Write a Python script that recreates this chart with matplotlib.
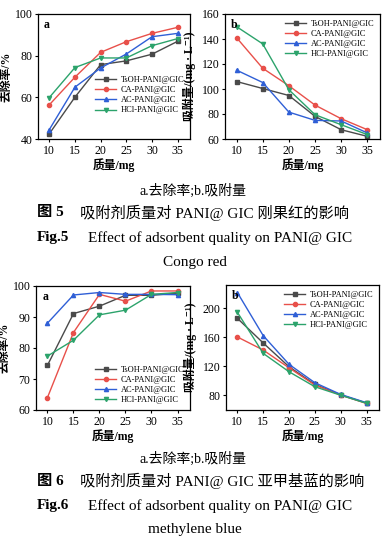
import matplotlib
matplotlib.use("Agg")
import matplotlib.pyplot as plt

plt.rcParams['font.family'] = ['Liberation Serif', 'Noto Sans CJK SC', 'DejaVu Sans']

mass = [10, 15, 20, 25, 30, 35]
series = ["TsOH-PANI@GIC", "CA-PANI@GIC", "AC-PANI@GIC", "HCl-PANI@GIC"]
colors = ["#4a4a4a", "#e8504a", "#2f5fd6", "#2ca36b"]
markers = ["s", "o", "^", "v"]

# Fig.5 Congo red
cr_removal = {
    "TsOH-PANI@GIC": [42.5, 60.1, 75.7, 77.5, 80.7, 86.9],
    "CA-PANI@GIC": [56.4, 69.7, 81.6, 86.7, 90.7, 93.6],
    "AC-PANI@GIC": [44.5, 64.9, 74.1, 80.8, 89.1, 90.7],
    "HCl-PANI@GIC": [59.9, 74.3, 78.9, 78.9, 84.8, 88.2],
}
cr_adsorb = {
    "TsOH-PANI@GIC": [106.0, 100.4, 94.8, 78.1, 67.4, 62.1],
    "CA-PANI@GIC": [141.1, 116.6, 102.6, 87.1, 76.2, 67.4],
    "AC-PANI@GIC": [115.1, 105.2, 81.5, 74.9, 74.4, 64.8],
    "HCl-PANI@GIC": [149.9, 136.1, 99.4, 79.4, 71.4, 63.5],
}
# Fig.6 methylene blue
mb_removal = {
    "TsOH-PANI@GIC": [74.4, 91.1, 93.5, 97.0, 97.0, 97.7],
    "CA-PANI@GIC": [64.0, 85.0, 97.3, 95.1, 98.4, 98.4],
    "AC-PANI@GIC": [88.0, 97.1, 97.9, 97.3, 97.3, 97.2],
    "HCl-PANI@GIC": [77.4, 82.5, 90.7, 92.2, 97.3, 97.9],
}
mb_adsorb = {
    "TsOH-PANI@GIC": [186.2, 152.2, 119.5, 95.2, 80.8, 69.5],
    "CA-PANI@GIC": [160.5, 142.5, 118.0, 94.3, 80.5, 69.0],
    "AC-PANI@GIC": [221.6, 162.3, 122.8, 97.5, 81.4, 70.0],
    "HCl-PANI@GIC": [194.5, 137.9, 112.6, 92.0, 80.3, 69.2],
}

W, H = 391, 546
fig = plt.figure(figsize=(W / 100, H / 100), dpi=100)

def box(l, t, r, b):
    return [l / W, 1 - b / H, (r - l) / W, (b - t) / H]

ylab_removal = "去除率/%"
ylab_ads = "吸附量/(mg · L⁻¹)"

def draw(rect, data, ylim, yticks, ylabel, panel, legloc, anchor, ylx):
    ax = fig.add_axes(box(*rect))
    for s, c, m in zip(series, colors, markers):
        ax.plot(mass, data[s], color=c, marker=m, markersize=3, linewidth=1, label=s)
    ax.set_xlim(7.8, 37.4)
    ax.set_ylim(*ylim)
    ax.set_xticks(mass)
    ax.set_yticks(yticks)
    ax.tick_params(direction='out', length=2.5, width=0.8, labelsize=8.5, pad=1.5)
    for sp in ax.spines.values():
        sp.set_linewidth(0.9)
    ax.set_xlabel("质量/mg", fontsize=8.5, labelpad=1, fontweight='bold')
    ax.set_ylabel(ylabel, fontsize=8.5, fontweight='bold')
    ax.yaxis.set_label_coords(ylx, 0.5)
    ax.text(0.04, 0.96, panel, transform=ax.transAxes, fontsize=8.5, fontweight='bold', va='top', ha='left')
    ax.legend(loc=legloc, bbox_to_anchor=anchor, frameon=False, fontsize=6, handlelength=2.6,
              handletextpad=0.5, labelspacing=0.25, borderaxespad=0.3)
    return ax

draw((38, 14, 190, 139), cr_removal, (40, 100), [40, 60, 80, 100], ylab_removal, "a", "lower right", (1, 0.15), -0.165)
draw((225, 14, 380, 139), cr_adsorb, (60, 160), [60, 80, 100, 120, 140, 160], ylab_ads, "b", "upper right", (1, 1), -0.19)
draw((36, 286, 190, 410), mb_removal, (60, 100), [60, 70, 80, 90, 100], ylab_removal, "a", "lower right", (1, 0), -0.163)
draw((226, 285, 379, 410), mb_adsorb, (60, 232), [80, 120, 160, 200], ylab_ads, "b", "upper right", (1, 1), -0.19)

def ftext(x, y, s, ha='center', **kw):
    fig.text(x / W, 1 - y / H, s, ha=ha, va='center', **kw)

def caption(y0, num, zh, en, en2):
    ftext(193, y0, "a.去除率;b.吸附量", fontsize=10)
    ftext(37, y0 + 22, "图 " + num, ha='left', fontsize=11, fontweight='bold')
    ftext(80, y0 + 22, zh, ha='left', fontsize=11)
    ftext(37, y0 + 47, "Fig." + num, ha='left', fontsize=11, fontweight='bold')
    ftext(88, y0 + 47, en, ha='left', fontsize=11)
    ftext(195, y0 + 71, en2, fontsize=11)

caption(191, "5", "吸附剂质量对 PANI@ GIC 刚果红的影响", "Effect of adsorbent quality on PANI@ GIC", "Congo red")
caption(459, "6", "吸附剂质量对 PANI@ GIC 亚甲基蓝的影响", "Effect of adsorbent quality on PANI@ GIC", "methylene blue")

fig.savefig("out.png", dpi=100)
